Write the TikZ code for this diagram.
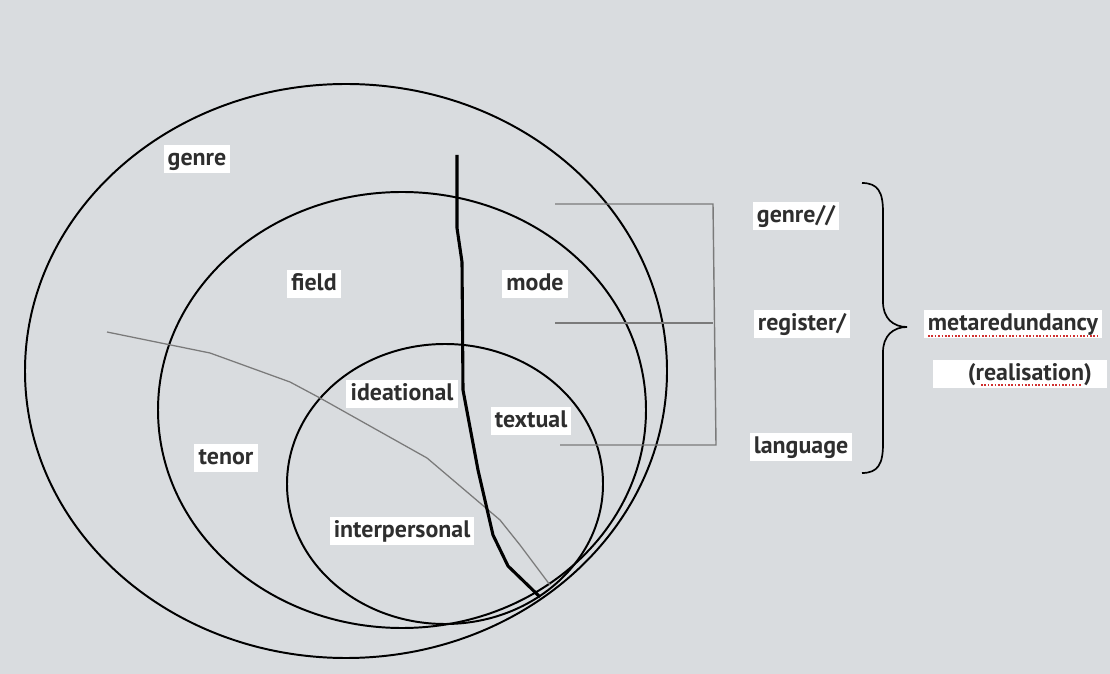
\documentclass[tikz,border=0pt]{standalone}
\usepackage{fontspec}
\setmainfont{PT Sans}
\usetikzlibrary{positioning}
\definecolor{paper}{HTML}{D9DCDF}
\definecolor{inktext}{HTML}{2E2E2E}
\definecolor{rulegray}{HTML}{7A7A7A}
\definecolor{spellred}{HTML}{D03030}
\tikzset{
  lbl/.style={fill=white, text=inktext, font=\fontsize{17}{20}\selectfont\bfseries, inner xsep=3pt, inner ysep=2.2pt, text height=12.5pt, text depth=3.6pt},
  ring/.style={draw=black, line width=1.4pt},
  tie/.style={draw=rulegray, line width=1pt},
  spell/.style={draw=spellred, line width=1.2pt, dash pattern=on 1.2pt off 1.2pt},
}

\begin{document}
\begin{tikzpicture}[x=0.025cm, y=-0.025cm]
\fill[paper] (0,0) rectangle (1110,674);
\useasboundingbox (0,0) rectangle (1110,674);

% strata
\draw[ring] (346,371) ellipse [x radius=321, y radius=287];
\draw[ring] (402,410) ellipse [x radius=244, y radius=218];
\draw[ring] (445,484) ellipse [x radius=158, y radius=140];

% thin gray cut
\draw[rulegray, line width=0.9pt] (107,332) -- (210,353) -- (290,382) -- (320,398) -- (427,458) -- (500,520) -- (520,545) -- (550,585);

% thick black cut
\draw[black, line width=2.2pt, line join=round] (457,155) -- (457,228) -- (462,262) -- (463,390) -- (478,470) -- (493,535) -- (508,566) -- (540,597);

% bracket to the labels on the right
\coordinate (t1) at (555,204);
\coordinate (t2) at (555,323);
\coordinate (t3) at (560,445);
\coordinate (v1) at (713,204);
\coordinate (v2) at (713,323);
\coordinate (v3) at (716,445);
\draw[tie] (t1) -- (v1) -- (v3) -- (t3);
\draw[tie] (t2) -- (v2);

% brace
\draw[black, line width=1.2pt] (862,183) .. controls (878,183) and (883,192) .. (883,212) -- (883,302) .. controls (883,318) and (893,327) .. (907,327) .. controls (893,327) and (883,336) .. (883,352) -- (883,444) .. controls (883,464) and (878,473) .. (862,473);

% labels
\node[lbl] (genre) at (197,159) {genre};
\node[lbl] (field) at (314,284) {field};
\node[lbl] (mode) at (535,284) {mode};
\node[lbl] (tenor) at (226,458) {tenor};
\node[lbl] (ideational) at (402,394) {ideational};
\node[lbl] (textual) at (531,421) {textual};
\node[lbl] (interpersonal) at (402,531) {interpersonal};
\node[lbl] (genreR) at (796,216) {genre//};
\node[lbl] (register) at (802,324) {register/};
\node[lbl] (language) at (801,447) {language};
\node[lbl] (meta) at (1013,324) {metaredundancy};
\node[lbl, minimum width=174*0.025cm] (real) at (1020,374) {\hspace*{14pt}(realisation)};

% spell-check marks
\draw[spell] (928,336) -- (1100,336);
\draw[spell] (981,385) -- (1081,385);
\end{tikzpicture}
\end{document}
